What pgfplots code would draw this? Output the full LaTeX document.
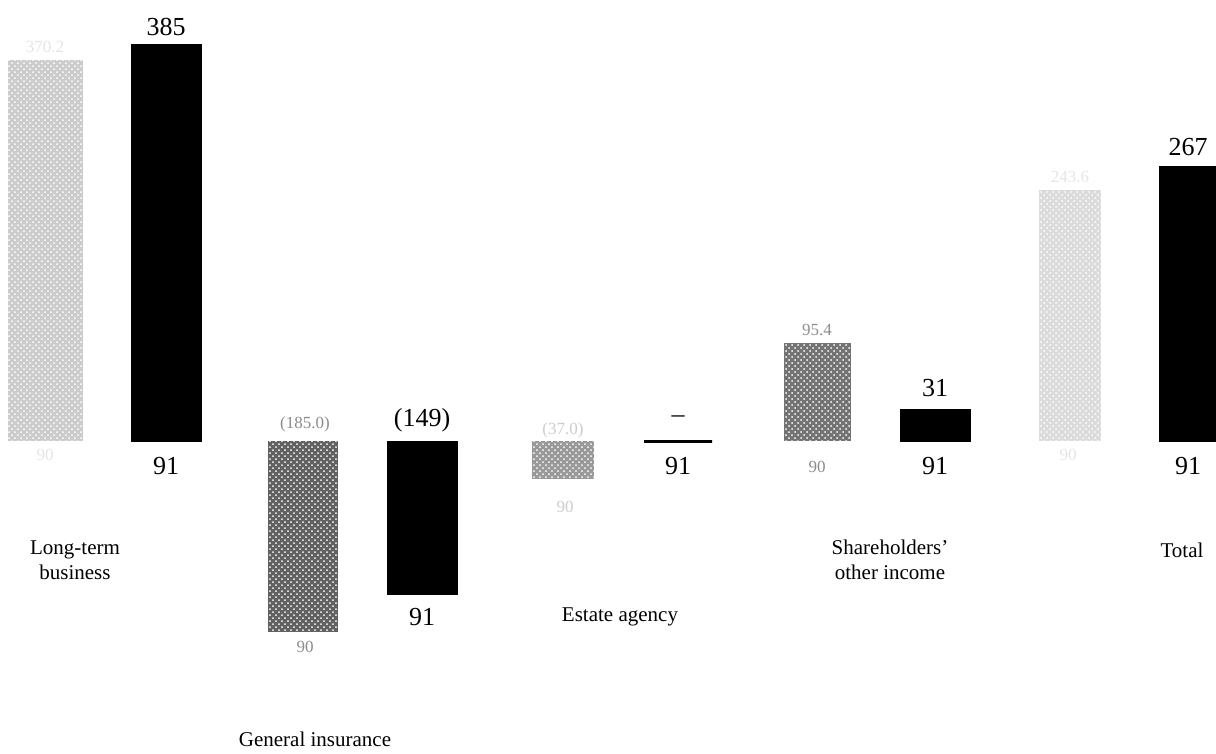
\documentclass[border=0pt]{standalone}
\usepackage{pgfplots}
\pgfplotsset{compat=1.18}
\usetikzlibrary{patterns}
\usepackage{fontspec}
\setmainfont{Liberation Serif}

\begin{document}
\begin{tikzpicture}[
  num/.style={font=\fontsize{13}{14}\selectfont},
  small/.style={font=\fontsize{8.5}{10}\selectfont, text=black!45},
  faint/.style={font=\fontsize{8.5}{10}\selectfont, text=black!10},
  cat/.style={font=\fontsize{10.5}{12.5}\selectfont, align=center},
]
\begin{axis}[
    scale only axis,
    width=608pt, height=373.5pt,
    xmin=0, xmax=1216,
    ymin=-297.1, ymax=428.2,
    axis lines=none,
    xtick=\empty, ytick=\empty,
    clip mode=individual,
]
\path (rel axis cs:0,0) rectangle (rel axis cs:1,1);

% 1990 bars (stippled grey)
\addplot[ybar, bar shift=0pt, bar width=75, draw=none, fill=black!20,
  postaction={pattern=crosshatch dots, pattern color=white}]
  coordinates {(45,370.2)};
\addplot[ybar, bar shift=0pt, bar width=70, draw=none, fill=black!62,
  postaction={pattern=crosshatch dots, pattern color=white}]
  coordinates {(303,-185.0)};
\addplot[ybar, bar shift=0pt, bar width=62, draw=none, fill=black!40,
  postaction={pattern=crosshatch dots, pattern color=white}]
  coordinates {(563,-37.0)};
\addplot[ybar, bar shift=0pt, bar width=67, draw=none, fill=black!55,
  postaction={pattern=crosshatch dots, pattern color=white}]
  coordinates {(817,95.4)};
\addplot[ybar, bar shift=0pt, bar width=62, draw=none, fill=black!14,
  postaction={pattern=crosshatch dots, pattern color=white}]
  coordinates {(1070,243.6)};

% 1991 bars (solid black)
\addplot[ybar, bar shift=0pt, bar width=70, draw=black, fill=black]
  coordinates {(166,385) (422,-149) (935,31) (1194,267)};
\addplot[ybar, bar shift=0pt, bar width=68, draw=black, line width=1.5pt, fill=black]
  coordinates {(678,0)};

% 1991 value labels
\node[num] at (axis cs:166,402) {385};
\node[num] at (axis cs:422,20.4) {(149)};
\node[num] at (axis cs:678,21) {--};
\node[num] at (axis cs:935,51.5) {31};
\node[num] at (axis cs:1188,285.4) {267};

% year labels under 1991 bars
\node[num] at (axis cs:166,-24.3) {91};
\node[num] at (axis cs:422,-170.9) {91};
\node[num] at (axis cs:678,-24.3) {91};
\node[num] at (axis cs:935,-24.3) {91};
\node[num] at (axis cs:1188,-24.3) {91};

% 1990 value and year labels
\node[faint] at (axis cs:45,383) {370.2};
\node[small] at (axis cs:305,16.5) {(185.0)};
\node[faint, text=black!20] at (axis cs:563,10.7) {(37.0)};
\node[small] at (axis cs:817,107.8) {95.4};
\node[faint] at (axis cs:1070,256) {243.6};
\node[faint] at (axis cs:45,-13.6) {90};
\node[small] at (axis cs:305,-200) {90};
\node[faint, text=black!20] at (axis cs:565,-64) {90};
\node[small] at (axis cs:817,-25.2) {90};
\node[faint] at (axis cs:1068,-13.6) {90};

% category names
\node[cat] at (axis cs:75,-115.5) {Long-term\\business};
\node[cat] at (axis cs:315,-289.3) {General insurance};
\node[cat] at (axis cs:620,-170.9) {Estate agency};
\node[cat] at (axis cs:890,-115.5) {Shareholders'\\other income};
\node[cat] at (axis cs:1182,-105.8) {Total};
\end{axis}
\end{tikzpicture}
\end{document}
